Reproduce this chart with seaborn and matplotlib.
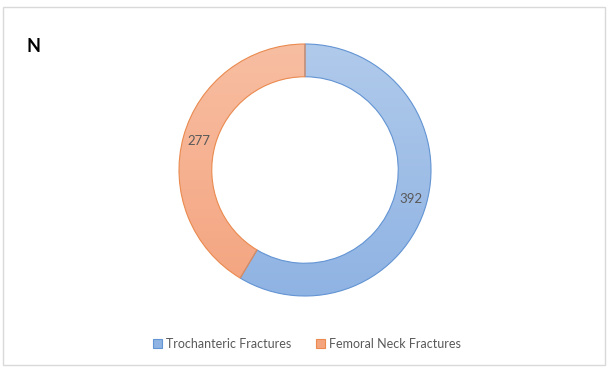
import numpy as np
import matplotlib
matplotlib.use("Agg")
import matplotlib.pyplot as plt
from matplotlib.patches import Patch, Rectangle
from matplotlib.colors import LinearSegmentedColormap
import seaborn as sns

categories = ["Trochanteric Fractures", "Femoral Neck Fractures"]
values = [392, 277]
title = "N"

sns.set_theme(style="white")
plt.rcParams["font.family"] = ["Lato", "DejaVu Sans"]

top_colors = ["#b0caeb", "#f8bea2"]
bottom_colors = ["#8fb3e3", "#f4a47f"]
edge_colors = ["#6394d3", "#ea8a4f"]
legend_colors = ["#8fb4e3", "#f5a57d"]
text_color = "#595959"

W, H = 609, 371
fig = plt.figure(figsize=(W / 100, H / 100), dpi=100)
fig.patch.set_facecolor("white")

cx, cy, R = 305, 170, 126
half = 1.25 * R
ax = fig.add_axes([(cx - half) / W, (H - cy - half) / H, 2 * half / W, 2 * half / H])

wedges, texts = ax.pie(
    values,
    startangle=90,
    counterclock=False,
    radius=1.0,
    wedgeprops=dict(width=0.26, linewidth=0.8),
    labels=[str(v) for v in values],
    labeldistance=None,
)
ax.set_aspect("equal")
ax.axis("off")

for i, w in enumerate(wedges):
    w.set_facecolor("none")
    w.set_edgecolor(edge_colors[i])
    w.set_zorder(3)
    cmap = LinearSegmentedColormap.from_list("g%d" % i, [bottom_colors[i], top_colors[i]])
    grad = np.linspace(0, 1, 256).reshape(-1, 1)
    im = ax.imshow(grad, cmap=cmap, extent=(-1, 1, -1, 1), origin="lower",
                   aspect="auto", zorder=2)
    im.set_clip_path(w)

# value labels at ring middle
total = sum(values)
ang = 90.0
for i, v in enumerate(values):
    span = 360.0 * v / total
    mid = np.deg2rad(ang - span / 2)
    r = 1 - 0.13
    ax.text(r * np.cos(mid), r * np.sin(mid), str(v), ha="center", va="center",
            fontsize=9.5, color=text_color, zorder=4)
    ang -= span
ax.set_xlim(-1.25, 1.25)
ax.set_ylim(-1.25, 1.25)

fig.text(27 / W, 1 - 47 / H, title, fontsize=13, fontweight="bold", color="#000000",
         ha="left", va="center")

handles = [Patch(facecolor=legend_colors[i], edgecolor=edge_colors[i], linewidth=0.8)
           for i in range(len(categories))]
leg = fig.legend(handles, categories, loc="center", bbox_to_anchor=(307 / W, 1 - 344 / H),
                 ncol=2, frameon=False, fontsize=9, handlelength=0.7, handleheight=0.7,
                 handletextpad=0.35, columnspacing=2.0)
for t in leg.get_texts():
    t.set_color(text_color)

fig.patches.append(Rectangle((3 / W, 6 / H), 602 / W, 358 / H, transform=fig.transFigure,
                             fill=False, edgecolor="#d9d9d9", linewidth=1.0))

fig.savefig("out.png", dpi=100, facecolor="white")
